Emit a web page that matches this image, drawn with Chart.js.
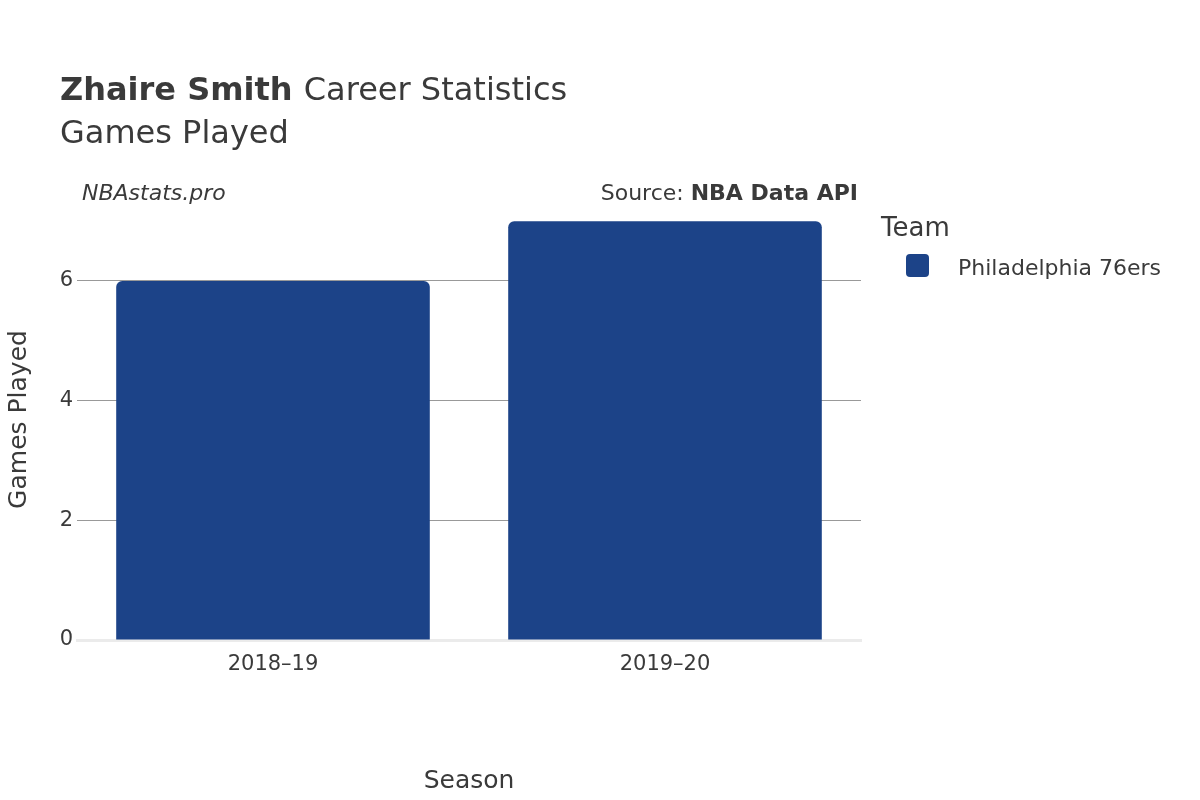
<!DOCTYPE html>
<html>
<head>
<meta charset="utf-8">
<script src="https://cdn.jsdelivr.net/npm/chart.js@4"></script>
<style>
  html, body { margin: 0; padding: 0; background: #fff; }
  #wrap { width: 1200px; height: 800px; }
</style>
</head>
<body>
<div id="wrap"><canvas id="chart" width="1200" height="800"></canvas></div>
<script>
// Data
const seasons = ["2018–19", "2019–20"];
const gamesPlayed = [6, 7];
const teamName = "Philadelphia 76ers";
const teamColor = "#1c4388";
const yTicks = [0, 2, 4, 6];

const FONT = "'DejaVu Sans', sans-serif";
const TEXT = "#3a3a3a";

// Titles, source line and legend drawn on the canvas
const decor = {
  id: "decor",
  afterDraw(chart) {
    const c = chart.ctx;
    c.save();
    c.fillStyle = TEXT;
    c.textBaseline = "alphabetic";
    c.textAlign = "left";
    c.font = "bold 32px " + FONT;
    c.fillText("Zhaire Smith", 60, 100);
    const w = c.measureText("Zhaire Smith ").width;
    c.font = "32px " + FONT;
    c.fillText("Career Statistics", 60 + w, 100);
    c.fillText("Games Played", 60, 143);

    c.font = "italic 22px " + FONT;
    c.fillText("NBAstats.pro", 82, 200);

    c.textAlign = "right";
    c.font = "bold 22px " + FONT;
    c.fillText("NBA Data API", 858, 200);
    const bw = c.measureText("NBA Data API").width;
    c.font = "22px " + FONT;
    c.fillText("Source: ", 858 - bw, 200);

    c.textAlign = "left";
    c.font = "26px " + FONT;
    c.fillText("Team", 881, 236);
    c.fillStyle = teamColor;
    c.beginPath();
    c.roundRect(906, 254, 23, 23, 4);
    c.fill();
    c.fillStyle = TEXT;
    c.font = "22px " + FONT;
    c.fillText(teamName, 958, 275);
    c.restore();
  }
};

new Chart(document.getElementById("chart"), {
  type: "bar",
  data: {
    labels: seasons,
    datasets: [{
      label: teamName,
      data: gamesPlayed,
      backgroundColor: teamColor,
      borderRadius: 6,
      borderSkipped: "bottom",
      barPercentage: 0.8,
      categoryPercentage: 1.0
    }]
  },
  options: {
    responsive: false,
    animation: false,
    layout: { padding: { top: 199, right: 339, left: 0, bottom: 0 } },
    plugins: { legend: { display: false }, tooltip: { enabled: false } },
    scales: {
      x: {
        grid: { display: false },
        border: { color: "#ebebeb", width: 3 },
        ticks: { color: TEXT, font: { family: FONT, size: 21 }, padding: 4 },
        title: { display: true, text: "Season", color: TEXT, font: { family: FONT, size: 25 }, padding: { top: 24 } },
        afterFit(s) { s.height = 160; }
      },
      y: {
        min: 0,
        max: 7.37,
        afterBuildTicks(s) { s.ticks = yTicks.map(v => ({ value: v })); },
        grid: {
          color: ctx => ctx.tick && ctx.tick.value === 0 ? "rgba(0,0,0,0)" : "#999",
          drawTicks: false
        },
        border: { display: false },
        ticks: { color: TEXT, font: { family: FONT, size: 21 }, padding: 4 },
        title: { display: true, text: "Games Played", color: TEXT, font: { family: FONT, size: 25 }, padding: { bottom: 20 } },
        afterFit(s) { s.width = 77; }
      }
    }
  },
  plugins: [decor]
});
</script>
</body>
</html>
